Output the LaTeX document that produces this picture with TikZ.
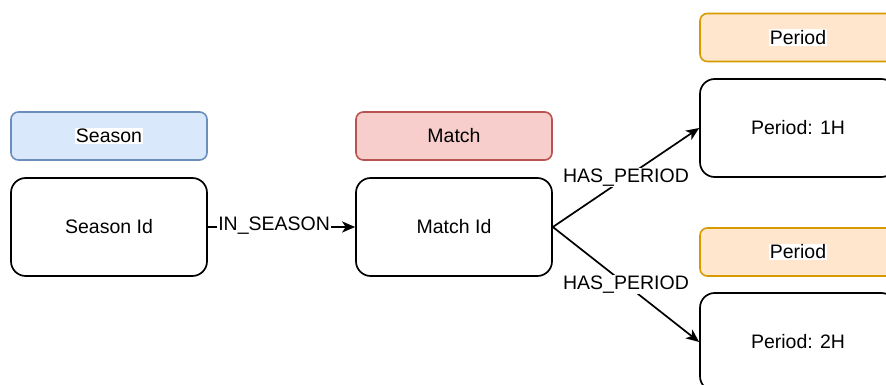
\documentclass[tikz,border=0pt]{standalone}
\usepackage{fontspec}
\setmainfont{Liberation Sans}
\usetikzlibrary{arrows.meta}
\definecolor{blueFill}{HTML}{DAE8FC}
\definecolor{blueLine}{HTML}{6C8EBF}
\definecolor{redFill}{HTML}{F8CECC}
\definecolor{redLine}{HTML}{B85450}
\definecolor{orangeFill}{HTML}{FFE6CC}
\definecolor{orangeLine}{HTML}{D79B00}
\tikzset{
  entity/.style={draw=black, fill=white, line width=1.7pt, rounded corners=14.7pt,
    minimum width=196pt, minimum height=98pt, inner sep=0pt, font=\fontsize{19.5pt}{23pt}\selectfont},
  tag/.style={line width=1.6pt, rounded corners=7.3pt,
    minimum width=196pt, minimum height=48pt, inner sep=0pt, font=\fontsize{19.5pt}{23pt}\selectfont},
  whitebg/.style={fill=white, inner sep=1pt},
  rel/.style={line width=1.7pt, -{Stealth[length=13pt,width=11pt,inset=3.5pt]}},
  rellbl/.style={fill=white, inner sep=1pt, font=\fontsize{19.5pt}{23pt}\selectfont}
}
\begin{document}
\begin{tikzpicture}[x=1pt, y=-1pt]
\path[use as bounding box, clip] (0,0) rectangle (886,385);

% entity type tags
\node[tag, draw=blueLine, fill=blueFill] (seasonlbl) at (109,136) {};
\node[whitebg, font=\fontsize{19.5pt}{23pt}\selectfont] (seasontxt) at (seasonlbl) {Season};
\node[tag, draw=redLine, fill=redFill] (matchlbl) at (454,136) {Match};
\node[tag, draw=orangeLine, fill=orangeFill] (per1lbl) at (798,37.5) {};
\node[whitebg, font=\fontsize{19.5pt}{23pt}\selectfont] (per1txt) at (per1lbl) {Period};
\node[tag, draw=orangeLine, fill=orangeFill] (per2lbl) at (798,252) {};
\node[whitebg, font=\fontsize{19.5pt}{23pt}\selectfont] (per2txt) at (per2lbl) {Period};

% entities
\node[entity] (seasonid) at (109,227) {Season Id};
\node[entity] (matchid) at (454,227) {Match Id};
\node[entity] (per1) at (798,128) {Period: 1H};
\node[entity] (per2) at (798,342) {Period: 2H};

% relationships
\draw[rel] (seasonid.east) -- node[rellbl, pos=0.45, yshift=1pt] (inseason) {IN\_SEASON} (matchid.west);
\draw[rel] (matchid.east) -- node[rellbl] (has1) {HAS\_PERIOD} (per1.west);
\draw[rel] (matchid.east) -- node[rellbl] (has2) {HAS\_PERIOD} (per2.west);
\end{tikzpicture}
\end{document}
